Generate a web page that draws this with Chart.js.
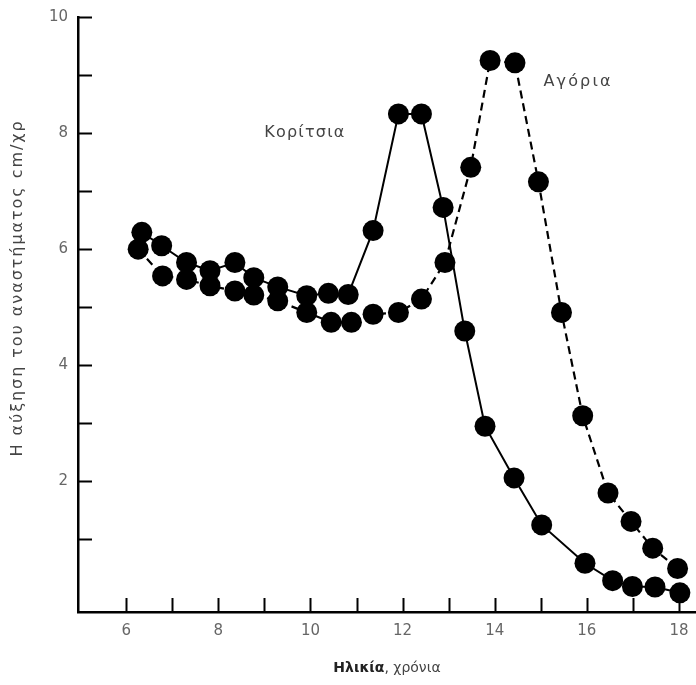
<!DOCTYPE html>
<html><head><meta charset="utf-8">
<script src="https://cdn.jsdelivr.net/npm/chart.js@4/dist/chart.umd.min.js"></script>
<style>html,body{margin:0;padding:0;background:#fff;overflow:hidden}#wrap{width:696px;height:685px}</style>
</head><body><div id="wrap"><canvas id="c" width="696" height="685"></canvas></div>
<script>
// ---- data ----
const girlsAge = [6.34,6.77,7.31,7.82,8.36,8.77,9.29,9.92,10.39,10.82,11.36,11.91,12.41,12.88,13.35,13.79,14.42,15.02,15.96,16.56,16.99,17.48,18.02];
const girlsVel = [6.29,6.06,5.77,5.63,5.77,5.51,5.35,5.20,5.24,5.22,6.32,8.33,8.33,6.72,4.59,2.95,2.06,1.25,0.59,0.29,0.19,0.18,0.08];
const boysAge  = [6.26,6.79,7.31,7.82,8.36,8.77,9.29,9.92,10.45,10.89,11.36,11.91,12.41,12.92,13.48,13.90,14.44,14.95,15.45,15.91,16.46,16.96,17.43,17.97];
const boysVel  = [6.00,5.54,5.48,5.37,5.28,5.21,5.11,4.91,4.74,4.74,4.88,4.91,5.14,5.77,7.41,9.25,9.21,7.16,4.91,3.13,1.80,1.31,0.85,0.50];
const xTickValues = [6,7,8,9,10,11,12,13,14,15,16,17,18];
const xTickLabels = [6,8,10,12,14,16,18];
const yTickValues = [1,2,3,4,5,6,7,8,9,10];
const yTickLabels = [2,4,6,8,10];
const seriesNames = ['Κορίτσια','Αγόρια'];
const yTitle = 'Η αύξηση του αναστήματος cm/χρ';
const xTitleBold = 'Ηλικία';
const xTitleRest = ', χρόνια';

const X_MIN = 4.954, X_MAX = 18.37, Y_MIN = -0.25, Y_MAX = 10;
const toPts = (xs, ys) => xs.map((x, i) => ({x, y: ys[i]}));
const FONT = "'DejaVu Sans', sans-serif";

function spacedText(ctx, text, cx, cy, targetW) {
  ctx.letterSpacing = '0px';
  const w = ctx.measureText(text).width;
  const n = Math.max(text.length - 1, 1);
  const ls = Math.max((targetW - w) / n, 0);
  ctx.letterSpacing = ls.toFixed(2) + 'px';
  const w2 = ctx.measureText(text).width;
  ctx.textAlign = 'left';
  ctx.fillText(text, cx - w2 / 2, cy);
  ctx.letterSpacing = '0px';
}

const decor = {
  id: 'decor',
  afterDraw(chart) {
    const ctx = chart.ctx, xs = chart.scales.x, ys = chart.scales.y;
    const ca = chart.chartArea;
    ctx.save();
    // inward tick marks
    ctx.strokeStyle = '#000'; ctx.lineWidth = 2;
    xTickValues.forEach(v => {
      const px = Math.round(xs.getPixelForValue(v)) + 0.5;
      ctx.beginPath(); ctx.moveTo(px, ca.bottom); ctx.lineTo(px, ca.bottom - 14); ctx.stroke();
    });
    yTickValues.forEach(v => {
      const py = Math.round(ys.getPixelForValue(v)) + 0.5;
      ctx.beginPath(); ctx.moveTo(ca.left, py); ctx.lineTo(ca.left + 14, py); ctx.stroke();
    });
    // tick labels
    ctx.fillStyle = '#666';
    ctx.font = '15px ' + FONT;
    ctx.textAlign = 'center'; ctx.textBaseline = 'top';
    xTickLabels.forEach(v => ctx.fillText(String(v), xs.getPixelForValue(v), ca.bottom + 12));
    ctx.textAlign = 'right'; ctx.textBaseline = 'middle';
    yTickLabels.forEach(v => ctx.fillText(String(v), ca.left - 10, ys.getPixelForValue(v)));
    // y title
    ctx.fillStyle = '#444';
    ctx.textBaseline = 'middle';
    ctx.font = '16px ' + FONT;
    ctx.save();
    ctx.translate(18, 288);
    ctx.rotate(-Math.PI / 2);
    spacedText(ctx, yTitle, 0, 0, 335);
    ctx.restore();
    // x title (bold part + normal part)
    ctx.font = 'bold 14px ' + FONT;
    const wb = ctx.measureText(xTitleBold).width;
    ctx.font = '14px ' + FONT;
    const wr = ctx.measureText(xTitleRest).width;
    const cx = (ca.left + ca.right) / 2;
    let x0 = cx - (wb + wr) / 2;
    ctx.textAlign = 'left';
    ctx.font = 'bold 14px ' + FONT; ctx.fillStyle = '#222';
    ctx.fillText(xTitleBold, x0, 668);
    ctx.font = '14px ' + FONT; ctx.fillStyle = '#444';
    ctx.fillText(xTitleRest, x0 + wb, 668);
    // series labels
    ctx.font = '16px ' + FONT; ctx.fillStyle = '#444';
    spacedText(ctx, seriesNames[0], xs.getPixelForValue(9.88), ys.getPixelForValue(8.0), 80);
    spacedText(ctx, seriesNames[1], xs.getPixelForValue(15.81), ys.getPixelForValue(8.88), 67);
    ctx.restore();
  }
};

new Chart(document.getElementById('c'), {
  type: 'line',
  data: {
    datasets: [
      { label: seriesNames[0], data: toPts(girlsAge, girlsVel), borderColor: '#000', backgroundColor: '#000',
        borderWidth: 2, pointRadius: 10.5, pointBorderWidth: 0, pointBackgroundColor: '#000', tension: 0 },
      { label: seriesNames[1], data: toPts(boysAge, boysVel), borderColor: '#000', backgroundColor: '#000',
        borderWidth: 2.2, borderDash: [8, 5], pointRadius: 10.5, pointBorderWidth: 0, pointBackgroundColor: '#000', tension: 0 }
    ]
  },
  options: {
    responsive: false, animation: false, devicePixelRatio: 1,
    layout: { autoPadding: false, padding: { top: 17, right: 0, left: 0, bottom: 0 } },
    plugins: { legend: { display: false }, tooltip: { enabled: false } },
    scales: {
      x: {
        type: 'linear', min: X_MIN, max: X_MAX,
        grid: { display: false },
        border: { display: true, color: '#000', width: 2.5 },
        afterBuildTicks: s => { s.ticks = xTickValues.map(v => ({ value: v })); },
        afterFit: s => { s.height = 73; },
        ticks: { display: false }
      },
      y: {
        type: 'linear', min: Y_MIN, max: Y_MAX,
        grid: { display: false },
        border: { display: true, color: '#000', width: 2.5 },
        afterBuildTicks: s => { s.ticks = yTickValues.map(v => ({ value: v })); },
        afterFit: s => { s.width = 78; },
        ticks: { display: false }
      }
    }
  },
  plugins: [decor]
});
</script>
</body></html>
